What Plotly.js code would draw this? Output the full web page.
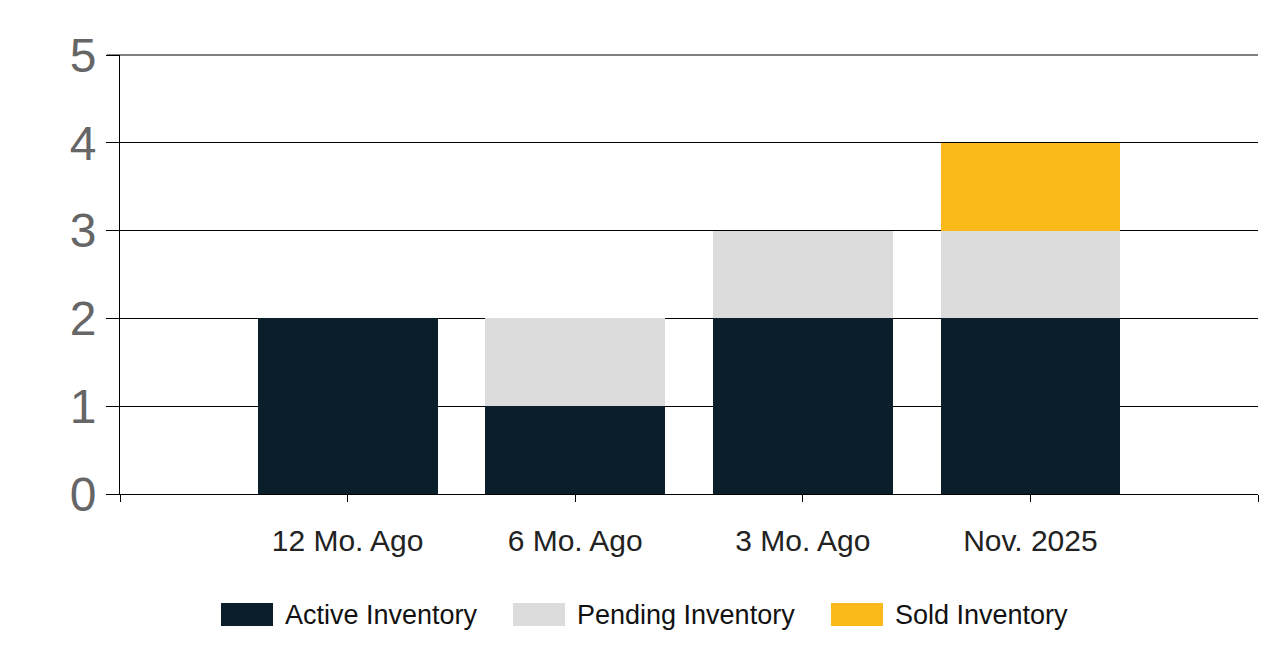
<!DOCTYPE html>
<html>
<head>
<meta charset="utf-8">
<script src="https://cdn.plot.ly/plotly-3.0.1.min.js"></script>
<style>html,body{margin:0;padding:0;background:#fff;}#chart{width:1261px;height:663px;}</style>
</head>
<body>
<div id="chart"></div>
<script>
const categories = ["12 Mo. Ago", "6 Mo. Ago", "3 Mo. Ago", "Nov. 2025"];
const positions = [1, 2, 3, 4];
const activeInventory = [2, 1, 2, 2];
const pendingInventory = [0, 1, 1, 1];
const soldInventory = [0, 0, 0, 1];
const seriesNames = ["Active Inventory", "Pending Inventory", "Sold Inventory"];
const seriesColors = ["#0b1f2a", "#dcdcdc", "#fbb91a"];
const yTicks = [0, 1, 2, 3, 4, 5];

const values = [activeInventory, pendingInventory, soldInventory];
const traces = values.map((v, i) => ({
  type: "bar",
  x: positions,
  y: v,
  name: seriesNames[i],
  width: 0.79,
  marker: {color: seriesColors[i], line: {width: 0}},
  showlegend: false,
  hoverinfo: "skip"
}));

// custom legend (paper coordinates)
const L = 120, R = 1258, T = 55, B = 494;
const px = x => (x - L) / (R - L);
const py = y => (B - y) / (B - T);
const swatchX = [221, 513, 831];
const shapes = [];
const annotations = [];
seriesNames.forEach((n, i) => {
  shapes.push({type: "rect", xref: "paper", yref: "paper",
    x0: px(swatchX[i]), x1: px(swatchX[i] + 52), y0: py(626), y1: py(603),
    fillcolor: seriesColors[i], line: {width: 0}});
  annotations.push({xref: "paper", yref: "paper", x: px(swatchX[i] + 62), y: py(615),
    xanchor: "left", yanchor: "middle", showarrow: false, text: n,
    font: {family: "Liberation Sans, Arial, sans-serif", size: 27, color: "#111"}});
});
// top gridline (at the edge of the range, Plotly omits it)
shapes.push({type: "line", xref: "paper", yref: "paper",
  x0: px(107), x1: 1, y0: 1, y1: 1, line: {color: "#000", width: 1}});

const layout = {
  width: 1261, height: 663,
  margin: {l: 120, r: 3, t: 55, b: 169},
  paper_bgcolor: "#fff", plot_bgcolor: "#fff",
  barmode: "stack",
  showlegend: false,
  xaxis: {
    range: [0, 5],
    tickvals: [0, 1, 2, 3, 4, 5],
    ticktext: ["", ...categories, ""],
    showgrid: false, zeroline: false,
    showline: true, linecolor: "#000", linewidth: 1,
    ticks: "outside", ticklen: 7, tickcolor: "#000", tickwidth: 1,
    ticklabelstandoff: 13,
    tickfont: {family: "Liberation Sans, Arial, sans-serif", size: 30, color: "#222"},
    fixedrange: true
  },
  yaxis: {
    range: [0, 5],
    tickvals: yTicks,
    showgrid: true, gridcolor: "#000", gridwidth: 1,
    zeroline: false,
    showline: true, linecolor: "#000", linewidth: 1,
    ticks: "outside", ticklen: 13, tickcolor: "#000", tickwidth: 1,
    ticklabelstandoff: 0,
    tickfont: {family: "Liberation Sans, Arial, sans-serif", size: 48, color: "#666"},
    fixedrange: true
  },
  shapes: shapes,
  annotations: annotations
};

Plotly.newPlot("chart", traces, layout, {displayModeBar: false, staticPlot: true});
</script>
</body>
</html>
